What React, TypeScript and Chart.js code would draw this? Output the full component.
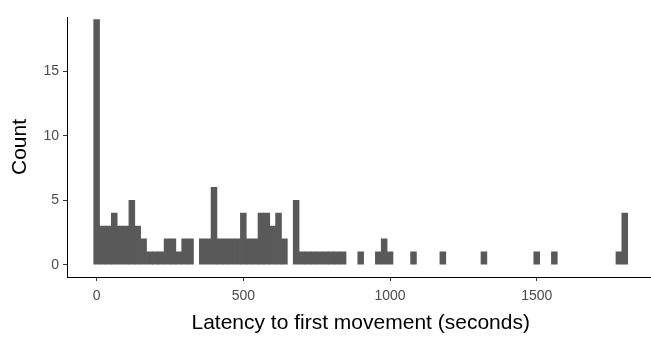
import React, { useEffect, useRef } from 'react';
import { Chart, registerables } from 'chart.js';

Chart.register(...registerables);

// Histogram bins (bin width 20 s, centred on multiples of 20); only non-empty bins listed
const binCenters = [
  0, 20, 40, 60, 80, 100, 120, 140, 160, 180, 200, 220, 240, 260, 280, 300, 320,
  360, 380, 400, 420, 440, 460, 480, 500, 520, 540, 560, 580, 600, 620, 640,
  680, 700, 720, 740, 760, 780, 800, 820, 840,
  900, 960, 980, 1000, 1080, 1180, 1320, 1500, 1560, 1780, 1800,
];
const binCounts = [
  19, 3, 3, 4, 3, 3, 5, 3, 2, 1, 1, 1, 2, 2, 1, 2, 2,
  2, 2, 6, 2, 2, 2, 2, 4, 2, 2, 4, 4, 3, 4, 2,
  5, 1, 1, 1, 1, 1, 1, 1, 1,
  1, 1, 2, 1, 1, 1, 1, 1, 1, 1, 4,
];
const xTicks = [0, 500, 1000, 1500];
const yTicks = [0, 5, 10, 15];
const xTitle = 'Latency to first movement (seconds)';
const yTitle = 'Count';

const FONT = '"Liberation Sans", Arial, sans-serif';

export default function App() {
  const ref = useRef<HTMLCanvasElement | null>(null);

  useEffect(() => {
    if (!ref.current) return;
    const chart = new Chart(ref.current, {
      type: 'bar',
      data: {
        datasets: [
          {
            data: binCenters.map((x, i) => ({ x, y: binCounts[i] })),
            backgroundColor: '#595959',
            borderWidth: 0,
            barPercentage: 1,
            categoryPercentage: 1,
          },
        ],
      },
      options: {
        animation: false,
        responsive: false,
        maintainAspectRatio: false,
        layout: { padding: { left: 0, top: 17, right: 5.6, bottom: 0 } },
        plugins: { legend: { display: false }, tooltip: { enabled: false } },
        scales: {
          x: {
            type: 'linear',
            min: -101,
            max: 1901,
            offset: false,
            afterFit: (s: any) => { s.height = 60; },
            afterBuildTicks: (s: any) => { s.ticks = xTicks.map((v) => ({ value: v })); },
            grid: { display: true, drawOnChartArea: false, drawTicks: true, tickLength: 4, color: '#333333', offset: false },
            border: { display: true, color: '#000000', width: 1 },
            ticks: {
              color: '#4D4D4D',
              font: { family: FONT, size: 14 },
              padding: 7,
              maxRotation: 0,
              callback: (v: any) => String(v),
            },
            title: { display: true, text: xTitle, color: '#000000', font: { family: FONT, size: 21 }, padding: { top: 0, bottom: 1 } },
          },
          y: {
            type: 'linear',
            min: -0.95,
            max: 19.2,
            afterFit: (s: any) => { s.width = 67; },
            afterBuildTicks: (s: any) => { s.ticks = yTicks.map((v) => ({ value: v })); },
            grid: { display: true, drawOnChartArea: false, drawTicks: true, tickLength: 4, color: '#333333' },
            border: { display: true, color: '#000000', width: 1 },
            ticks: { color: '#4D4D4D', font: { family: FONT, size: 14 }, padding: 4, callback: (v: any) => String(v) },
            title: { display: true, text: yTitle, color: '#000000', font: { family: FONT, size: 21 }, padding: { top: 8, bottom: 0 } },
          },
        },
      },
    });
    return () => chart.destroy();
  }, []);

  return (
    <div style={{ position: 'fixed', left: 0, top: 0, width: 651, height: 337, overflow: 'hidden', background: '#fff' }}>
      <canvas ref={ref} width={660} height={337} style={{ display: 'block', width: 660, height: 337 }} />
    </div>
  );
}
